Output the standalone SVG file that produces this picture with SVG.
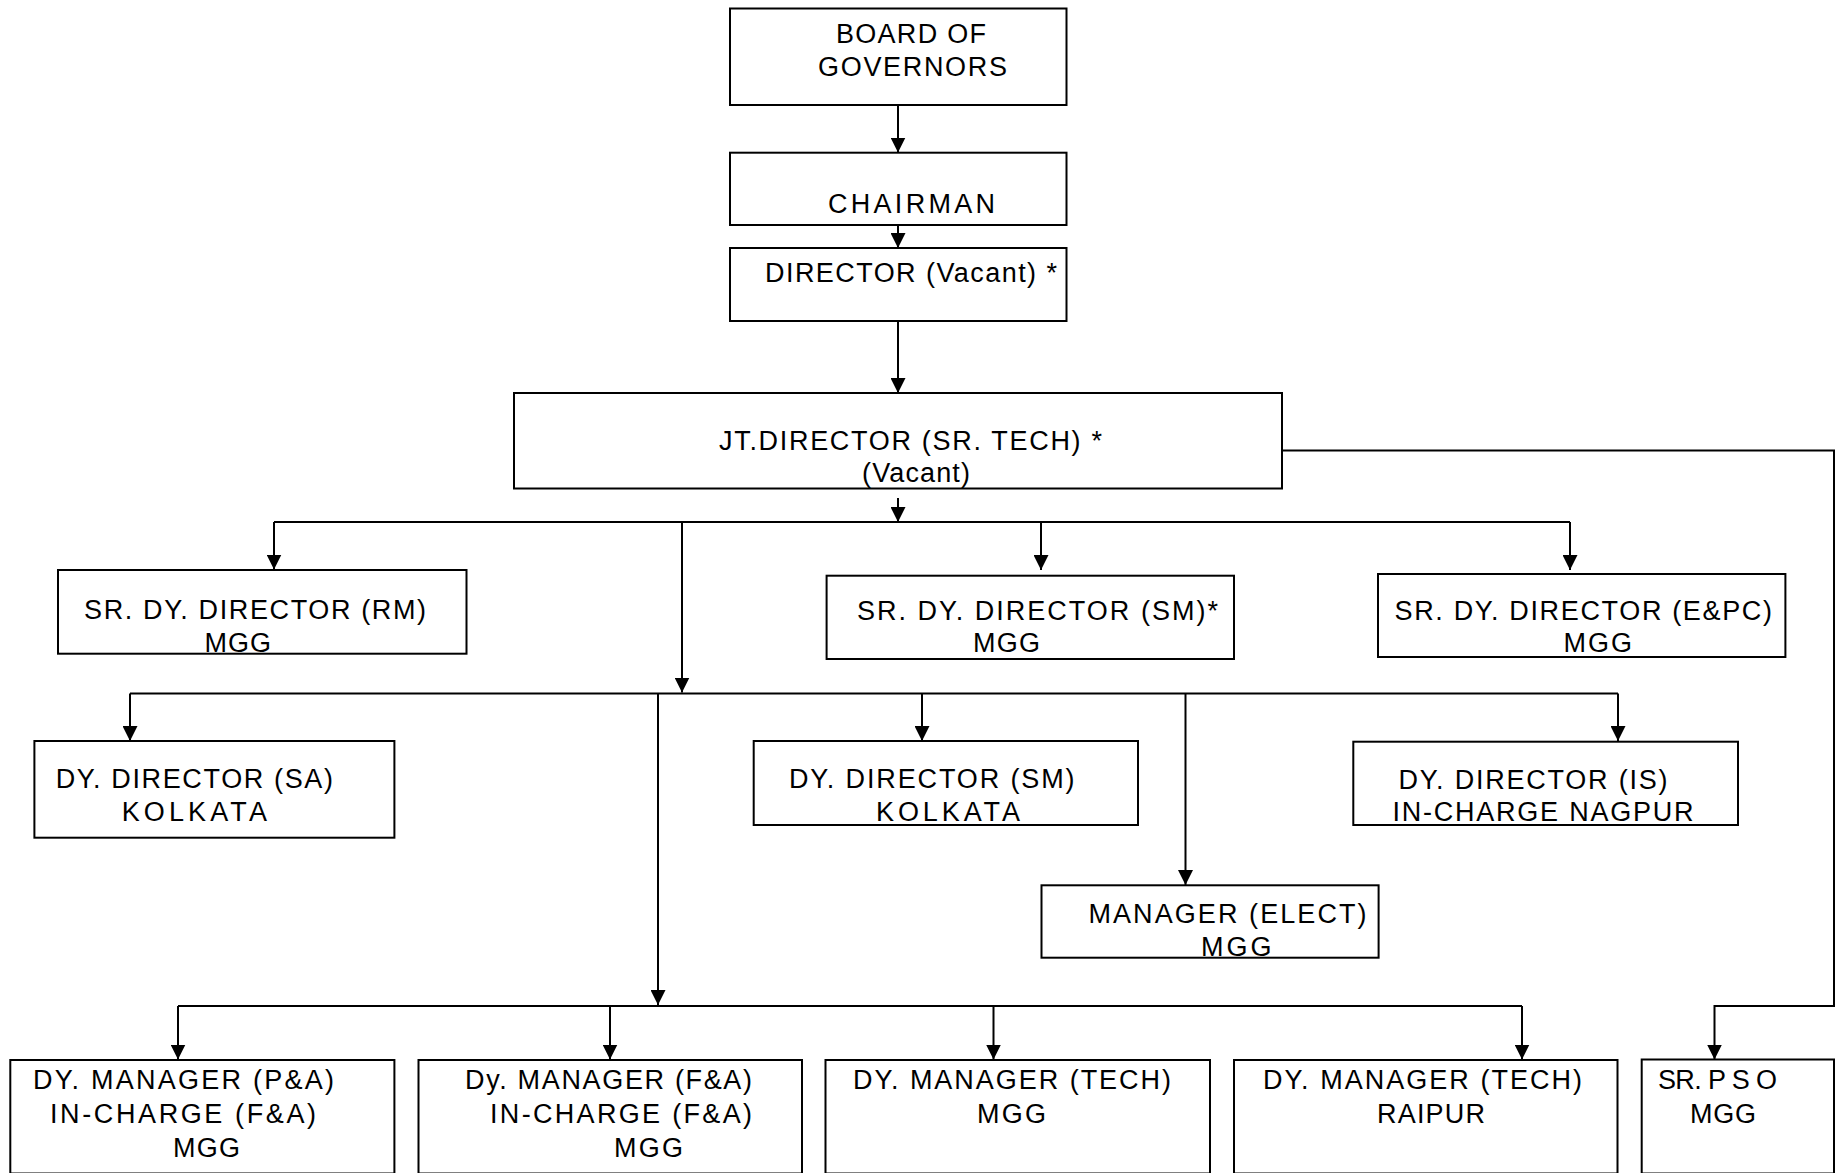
<svg xmlns="http://www.w3.org/2000/svg" width="1844" height="1173" viewBox="0 0 1844 1173">
<defs>
<style>
.box{fill:#fff;stroke:#000;stroke-width:2}
.c{fill:none;stroke:#000;stroke-width:2}
.t{font-family:"Liberation Sans Narrow","Liberation Sans",Arial,sans-serif;font-size:27px;fill:#000}
</style>
<marker id="ah" markerUnits="userSpaceOnUse" markerWidth="15" markerHeight="15" refX="15" refY="7.5" orient="auto" viewBox="0 0 15 15">
<path d="M0,0 L15,7.5 L0,15 z" fill="#000"/>
</marker>
</defs>
<rect width="1844" height="1173" fill="#fff"/>
<g id="connectors">
<path class="c" d="M898,105 V152.5" marker-end="url(#ah)"/>
<path class="c" d="M898,225 V248" marker-end="url(#ah)"/>
<path class="c" d="M898,321 V393" marker-end="url(#ah)"/>
<path class="c" d="M898,498 V522" marker-end="url(#ah)"/>
<path class="c" d="M274,522 H1570"/>
<path class="c" d="M274,522 V569.5" marker-end="url(#ah)"/>
<path class="c" d="M1041,522 V570" marker-end="url(#ah)"/>
<path class="c" d="M1570,522 V570" marker-end="url(#ah)"/>
<path class="c" d="M682,522 V692.5" marker-end="url(#ah)"/>
<path class="c" d="M130,693.5 H1618"/>
<path class="c" d="M130,693.5 V741" marker-end="url(#ah)"/>
<path class="c" d="M922,693.5 V741" marker-end="url(#ah)"/>
<path class="c" d="M1618,693.5 V741" marker-end="url(#ah)"/>
<path class="c" d="M1185.5,693.5 V885" marker-end="url(#ah)"/>
<path class="c" d="M658,693.5 V1005" marker-end="url(#ah)"/>
<path class="c" d="M178,1006 H1522"/>
<path class="c" d="M178,1006 V1059.5" marker-end="url(#ah)"/>
<path class="c" d="M610,1006 V1059.5" marker-end="url(#ah)"/>
<path class="c" d="M993.5,1006 V1059.5" marker-end="url(#ah)"/>
<path class="c" d="M1522,1006 V1059.5" marker-end="url(#ah)"/>
<path class="c" d="M1282,450.5 H1834 V1006 H1714.5 V1059.5" marker-end="url(#ah)"/>
</g>
<g id="board">
<rect class="box" x="730" y="8.5" width="336.5" height="96.5"/>
<text class="t" x="836" y="42.5" textLength="150" lengthAdjust="spacing">BOARD OF</text>
<text class="t" x="818" y="75.5" textLength="189" lengthAdjust="spacing">GOVERNORS</text>
</g>
<g id="chairman">
<rect class="box" x="730" y="152.7" width="336.5" height="72.3"/>
<text class="t" x="828" y="213" textLength="167" lengthAdjust="spacing">CHAIRMAN</text>
</g>
<g id="director">
<rect class="box" x="730" y="248" width="336.5" height="73"/>
<text class="t" x="765" y="281.5" textLength="292" lengthAdjust="spacing">DIRECTOR (Vacant) *</text>
</g>
<g id="jt-director">
<rect class="box" x="514" y="393" width="768" height="95.5"/>
<text class="t" x="719" y="449.5" textLength="383" lengthAdjust="spacing">JT.DIRECTOR (SR. TECH) *</text>
<text class="t" x="862" y="482" textLength="108" lengthAdjust="spacing">(Vacant)</text>
</g>
<g id="sr-dy-rm">
<rect class="box" x="58" y="570" width="408.5" height="83.7"/>
<text class="t" x="84" y="619" textLength="342" lengthAdjust="spacing">SR. DY. DIRECTOR (RM)</text>
<text class="t" x="204.5" y="652" textLength="66.5" lengthAdjust="spacing">MGG</text>
</g>
<g id="sr-dy-sm">
<rect class="box" x="826.6" y="575.7" width="407.4" height="83.3"/>
<text class="t" x="857" y="620" textLength="361" lengthAdjust="spacing">SR. DY. DIRECTOR (SM)*</text>
<text class="t" x="973" y="652" textLength="67" lengthAdjust="spacing">MGG</text>
</g>
<g id="sr-dy-epc">
<rect class="box" x="1378" y="574" width="407.4" height="83"/>
<text class="t" x="1394.5" y="620" textLength="377.5" lengthAdjust="spacing">SR. DY. DIRECTOR (E&amp;PC)</text>
<text class="t" x="1563.6" y="652" textLength="68.4" lengthAdjust="spacing">MGG</text>
</g>
<g id="dy-sa">
<rect class="box" x="34.4" y="741" width="360" height="96.7"/>
<text class="t" x="55.7" y="788" textLength="277.3" lengthAdjust="spacing">DY. DIRECTOR (SA)</text>
<text class="t" x="121.7" y="821" textLength="145.3" lengthAdjust="spacing">KOLKATA</text>
</g>
<g id="dy-sm">
<rect class="box" x="753.7" y="741" width="384.3" height="84"/>
<text class="t" x="789" y="788" textLength="285.6" lengthAdjust="spacing">DY. DIRECTOR (SM)</text>
<text class="t" x="876" y="821" textLength="144" lengthAdjust="spacing">KOLKATA</text>
</g>
<g id="dy-is">
<rect class="box" x="1353.3" y="741.7" width="384.7" height="83.3"/>
<text class="t" x="1398.5" y="789" textLength="269" lengthAdjust="spacing">DY. DIRECTOR (IS)</text>
<text class="t" x="1392.5" y="821" textLength="301" lengthAdjust="spacing">IN-CHARGE NAGPUR</text>
</g>
<g id="manager-elect">
<rect class="box" x="1041.5" y="885.3" width="337.1" height="72.4"/>
<text class="t" x="1088.4" y="923" textLength="278.2" lengthAdjust="spacing">MANAGER (ELECT)</text>
<text class="t" x="1201" y="956" textLength="70.5" lengthAdjust="spacing">MGG</text>
</g>
<g id="dy-mgr-pa">
<rect class="box" x="10.3" y="1060" width="384.1" height="113.5"/>
<text class="t" x="33" y="1089" textLength="301" lengthAdjust="spacing">DY. MANAGER (P&amp;A)</text>
<text class="t" x="50" y="1123" textLength="266" lengthAdjust="spacing">IN-CHARGE (F&amp;A)</text>
<text class="t" x="173" y="1157" textLength="67" lengthAdjust="spacing">MGG</text>
</g>
<g id="dy-mgr-fa">
<rect class="box" x="418.5" y="1060" width="383.5" height="113.5"/>
<text class="t" x="465" y="1089" textLength="287" lengthAdjust="spacing">Dy. MANAGER (F&amp;A)</text>
<text class="t" x="490" y="1123" textLength="262" lengthAdjust="spacing">IN-CHARGE (F&amp;A)</text>
<text class="t" x="614" y="1157" textLength="69" lengthAdjust="spacing">MGG</text>
</g>
<g id="dy-mgr-tech-mgg">
<rect class="box" x="825.5" y="1060" width="384.5" height="113.5"/>
<text class="t" x="853" y="1089" textLength="318" lengthAdjust="spacing">DY. MANAGER (TECH)</text>
<text class="t" x="977" y="1123" textLength="69" lengthAdjust="spacing">MGG</text>
</g>
<g id="dy-mgr-tech-raipur">
<rect class="box" x="1234" y="1060" width="383.5" height="113.5"/>
<text class="t" x="1263" y="1089" textLength="319" lengthAdjust="spacing">DY. MANAGER (TECH)</text>
<text class="t" x="1377" y="1123" textLength="108" lengthAdjust="spacing">RAIPUR</text>
</g>
<g id="sr-pso">
<rect class="box" x="1641.7" y="1059.5" width="192.3" height="114"/>
<text class="t" x="1658" y="1089" textLength="119" lengthAdjust="spacing">SR. P S O</text>
<text class="t" x="1690" y="1123" textLength="66" lengthAdjust="spacing">MGG</text>
</g>
</svg>
